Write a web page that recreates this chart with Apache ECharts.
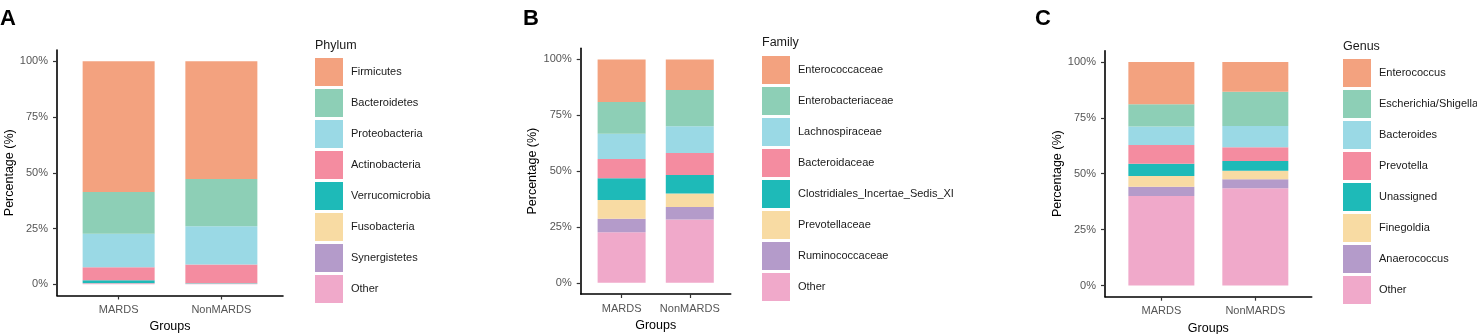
<!DOCTYPE html>
<html lang="en">
<head>
  <meta charset="UTF-8">
  <script src="https://cdn.jsdelivr.net/npm/echarts@6.0.0/dist/echarts.min.js"></script>
  <style>
    html, body { margin: 0; padding: 0; background: #fff; }
  </style>
</head>
<body>
  <div id="chart" style="width: 1477px; height: 334px;"></div>

  <script type="text/javascript">
    // groups on the x axis
    var groups = ['MARDS', 'NonMARDS'];
    var yTicks = [0, 25, 50, 75, 100];

    // panel A - phylum
    var phylumNames = ['Firmicutes', 'Bacteroidetes', 'Proteobacteria', 'Actinobacteria', 'Verrucomicrobia', 'Fusobacteria', 'Synergistetes', 'Other'];
    var phylumMARDS = [58.6, 18.7, 15.0, 5.9, 1.2, 0.1, 0.4, 0.1];
    var phylumNonMARDS = [52.8, 21.2, 17.1, 8.3, 0.1, 0.1, 0.3, 0.1];

    // panel B - family
    var familyNames = ['Enterococcaceae', 'Enterobacteriaceae', 'Lachnospiraceae', 'Bacteroidaceae', 'Clostridiales_Incertae_Sedis_XI', 'Prevotellaceae', 'Ruminococcaceae', 'Other'];
    var familyMARDS = [19.0, 14.3, 11.3, 8.6, 9.7, 8.4, 6.0, 22.7];
    var familyNonMARDS = [13.7, 16.2, 12.0, 9.8, 8.3, 6.1, 5.5, 28.4];

    // panel C - genus
    var genusNames = ['Enterococcus', 'Escherichia/Shigella', 'Bacteroides', 'Prevotella', 'Unassigned', 'Finegoldia', 'Anaerococcus', 'Other'];
    var genusMARDS = [18.9, 10.0, 8.3, 8.3, 5.5, 4.8, 4.2, 40.0];
    var genusNonMARDS = [13.4, 15.3, 9.5, 6.1, 4.4, 3.8, 4.0, 43.5];

    var colors = ['#F3A27F', '#8DCFB6', '#9AD9E5', '#F48CA0', '#1EBAB8', '#F8DBA3', '#B49BCA', '#F0A9CA'];

    var font = 'Liberation Sans';

    var panels = [
      { letter: 'A', title: 'Phylum', names: phylumNames, a: phylumMARDS, b: phylumNonMARDS,
        grid: { left: 57, top: 50, width: 226, height: 245.5 }, barWidth: 72,
        letterLeft: 0, legendLeft: 315, legendTop: 58, titleTop: 39, nameGap: 39 },
      { letter: 'B', title: 'Family', names: familyNames, a: familyMARDS, b: familyNonMARDS,
        grid: { left: 580.7, top: 48.3, width: 150, height: 245.7 }, barWidth: 48,
        letterLeft: 523, legendLeft: 762, legendTop: 56, titleTop: 36, nameGap: 42 },
      { letter: 'C', title: 'Genus', names: genusNames, a: genusMARDS, b: genusNonMARDS,
        grid: { left: 1105, top: 50.7, width: 206.7, height: 246 }, barWidth: 66,
        letterLeft: 1035, legendLeft: 1343, legendTop: 59, titleTop: 40, nameGap: 41 }
    ];

    var option = {
      animation: false,
      textStyle: { fontFamily: font },
      title: [],
      legend: [],
      grid: [],
      xAxis: [],
      yAxis: [],
      series: []
    };

    panels.forEach(function (p, k) {
      option.title.push({
        text: p.letter, left: p.letterLeft, top: 8, padding: 0,
        textStyle: { fontSize: 22, fontWeight: 'bold', color: '#000', fontFamily: font }
      });
      option.title.push({
        text: p.title, left: p.legendLeft, top: p.titleTop, padding: 0,
        textStyle: { fontSize: 12.5, fontWeight: 'normal', color: '#1a1a1a', fontFamily: font }
      });
      option.legend.push({
        orient: 'vertical', left: p.legendLeft, top: p.legendTop, padding: 0,
        itemWidth: 28, itemHeight: 28, itemGap: 3, icon: 'rect',
        selectedMode: false,
        data: p.names,
        textStyle: { fontSize: 11, color: '#1a1a1a', fontFamily: font, padding: [0, 0, 0, 3] }
      });
      option.grid.push(Object.assign({ outerBoundsMode: 'none', containLabel: false }, p.grid));
      option.xAxis.push({
        type: 'value', gridIndex: k, min: 0.4, max: 2.6,
        name: 'Groups', nameLocation: 'middle', nameGap: 24,
        nameTextStyle: { fontSize: 12.5, color: '#000', fontFamily: font },
        splitLine: { show: false },
        axisLine: { show: true, onZero: false, lineStyle: { color: '#000', width: 1.6 } },
        axisTick: { show: true, length: 4, customValues: [1, 2], lineStyle: { color: '#333', width: 1.2 } },
        axisLabel: {
          customValues: [1, 2], margin: 9, fontSize: 11, color: '#555', fontFamily: font,
          formatter: function (v) { return groups[Math.round(v) - 1]; }
        }
      });
      option.yAxis.push({
        type: 'value', gridIndex: k, min: -5, max: 105,
        name: 'Percentage (%)', nameLocation: 'middle', nameGap: p.nameGap,
        nameTextStyle: { fontSize: 12.5, color: '#000', fontFamily: font },
        splitLine: { show: false },
        axisLine: { show: true, onZero: false, lineStyle: { color: '#000', width: 1.6 } },
        axisTick: { show: true, length: 4, customValues: yTicks, lineStyle: { color: '#333', width: 1.2 } },
        axisLabel: {
          customValues: yTicks, margin: 9, fontSize: 11, color: '#555', fontFamily: font,
          formatter: function (v) { return v + '%'; }
        }
      });
      // ggplot stacks the first level on top, so add series from the last one.
      // value first so that the y dimension is the one that gets stacked
      for (var i = p.names.length - 1; i >= 0; i--) {
        option.series.push({
          type: 'bar', name: p.names[i], stack: 'p' + k,
          xAxisIndex: k, yAxisIndex: k, barWidth: p.barWidth,
          encode: { x: 1, y: 0 },
          itemStyle: { color: colors[i] },
          data: [[p.a[i], 1], [p.b[i], 2]]
        });
      }
    });

    var chart = echarts.init(document.getElementById('chart'));
    chart.setOption(option);
  </script>
</body>
</html>
